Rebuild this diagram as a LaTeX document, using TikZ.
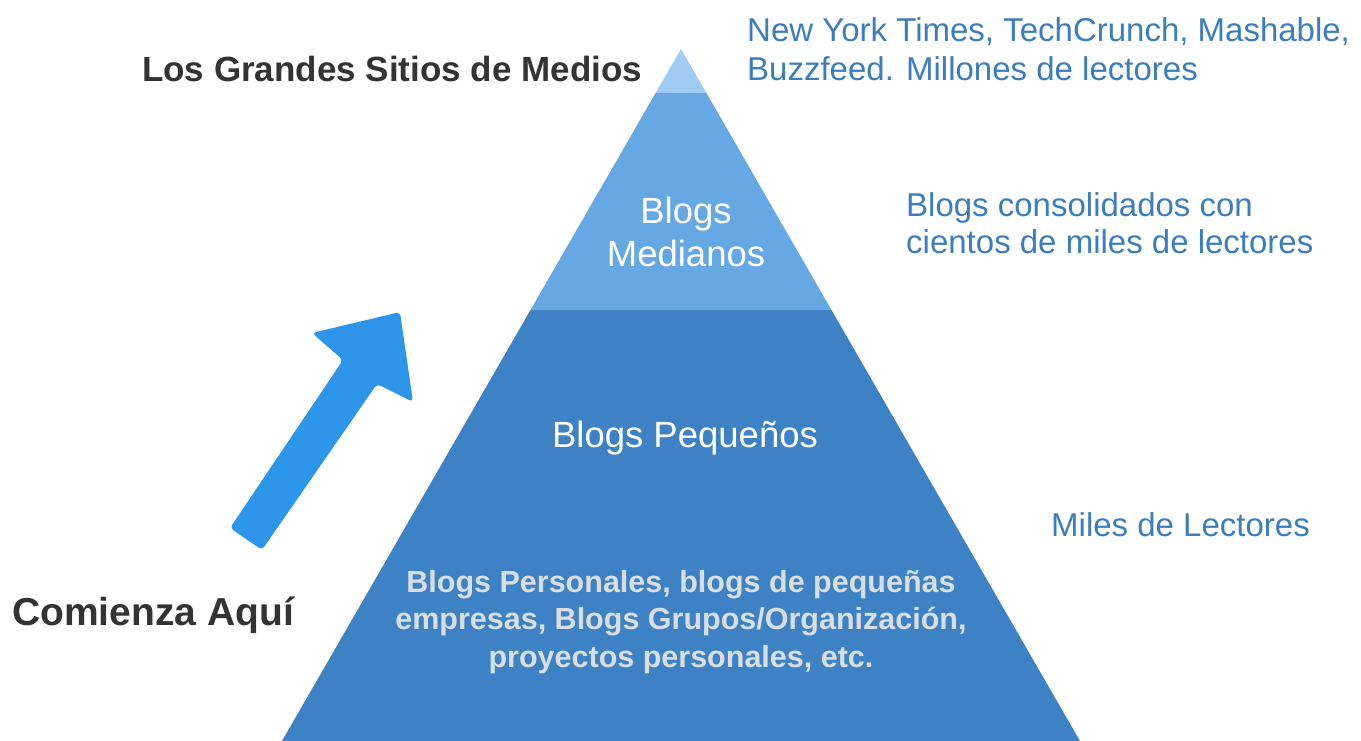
\documentclass[tikz,border=0pt]{standalone}
\usepackage{fontspec}
\setmainfont{Liberation Sans}
\usetikzlibrary{positioning}

\definecolor{tierTop}{HTML}{A0CBF2}
\definecolor{tierMid}{HTML}{66A8E3}
\definecolor{tierLow}{HTML}{3D82C4}
\definecolor{climb}{HTML}{2E96EA}
\definecolor{noteBlue}{HTML}{3B7DBD}
\definecolor{darkText}{HTML}{333333}
\definecolor{paleText}{HTML}{D9DEE5}

\begin{document}
\begin{tikzpicture}[
    x=1pt, y=-1pt,
    title/.style={
        inner sep=0pt,
        text=darkText,
        font=\fontsize{35}{42}\selectfont\bfseries
    },
    note/.style={
        inner sep=0pt,
        align=left,
        text=noteBlue,
        font=\fontsize{33}{39}\selectfont
    },
    tier/.style={
        inner sep=0pt,
        align=center,
        text=white,
        font=\fontsize{36.5}{43}\selectfont
    },
    base/.style={
        inner sep=0pt,
        align=center,
        text=paleText,
        font=\fontsize{30.5}{37.5}\selectfont\bfseries
    }
]
\useasboundingbox (0,0) rectangle (1361,741);

% Pyramid
\fill[tierLow] (530.5,310) -- (831.5,310) -- (1080,741) -- (282,741) -- cycle;
\fill[tierMid] (655.6,93) -- (706.4,93) -- (831.5,310) -- (530.5,310) -- cycle;
\fill[tierTop] (681,49) -- (706.4,93) -- (655.6,93) -- cycle;

% Arrow
\fill[climb, rounded corners=4pt] (230,528) -- (343,360) -- (312,333) -- (400,312)
    -- (413,402) -- (377,384) -- (262,550) -- cycle;

% Nodes
\node (media)  [title, anchor=base west] at (142,82) {Los Grandes Sitios de Medios};
\node (start)  [title, anchor=base west, font=\fontsize{39}{46}\selectfont\bfseries] at (12,625) {Comienza Aquí};
\node (big)    [note, anchor=base west] at (747,81) {New York Times, TechCrunch, Mashable,\\Buzzfeed. Millones de lectores};
\node (mid)    [note, anchor=base west, font=\fontsize{33}{37}\selectfont] at (906,253) {Blogs consolidados con\\cientos de miles de lectores};
\node (small)  [note, anchor=base west] at (1051,536) {Miles de Lectores};
\node (medium) [tier, anchor=base] at (686,266) {Blogs\\Medianos};
\node (little) [tier, anchor=base] at (685,447) {Blogs Pequeños};
\node (own)    [base, anchor=base] at (681,667) {Blogs Personales, blogs de pequeñas\\empresas, Blogs Grupos/Organización,\\proyectos personales, etc.};

\end{tikzpicture}
\end{document}
